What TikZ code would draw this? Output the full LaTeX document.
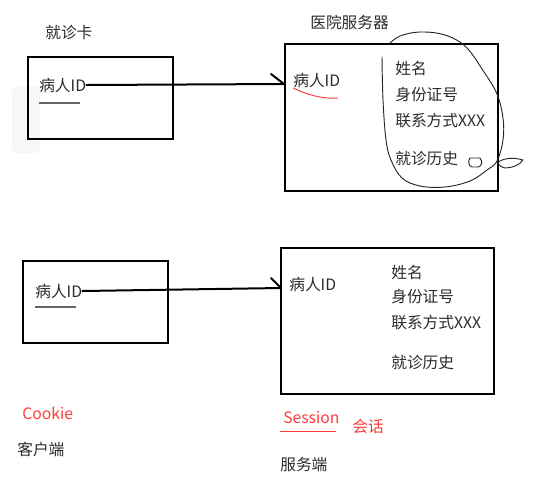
\documentclass[tikz,border=0pt]{standalone}
\usepackage{fontspec}
\setmainfont{Noto Sans CJK SC}
\usetikzlibrary{calc}
\definecolor{txt}{HTML}{2B2B2B}
\definecolor{redink}{HTML}{FF3B3B}
\begin{document}
\begin{tikzpicture}[x=0.75pt,y=-0.75pt,
  box/.style={draw=black,line width=1.6pt},
  lbl/.style={anchor=west,inner sep=0pt,text=txt,font=\fontsize{11.8}{14}\selectfont},
  rlbl/.style={lbl,text=redink},
  ink/.style={draw=black,line width=1.5pt,line cap=round,line join=round},
  pen/.style={draw=black!85,line width=0.7pt,line cap=round,line join=round},
  uline/.style={draw=black!60,line width=0.8pt}]
\useasboundingbox (0,0) rectangle (547,480);
% faint artifact
\fill[black!3,rounded corners=3pt] (12,86) rectangle (40,153);
% top row
\node[lbl] (card) at (45,33) {就诊卡};
\draw[box] (28,57) rectangle (173,139);
\node[lbl] (id1) at (39,85) {病人ID};
\draw[uline] (39,103) -- (80,103);
\node[lbl] (srvT) at (310,22) {医院服务器};
\draw[box] (285,44) rectangle (498,191);
\coordinate (a1) at (284,84);
\draw[ink] (id1.east) -- (a1) -- (271,74);
\node[lbl] (id2) at (293,80) {病人ID};
\draw[redink,line width=0.7pt] (293,88) .. controls (310,96) and (325,99) .. (338,98);
\node[lbl] (n1) at (395,68) {姓名};
\node[lbl] (n2) at (395,95) {身份证号};
\node[lbl] (n3) at (395,121) {联系方式XXX};
\node[lbl] (n4) at (395,159) {就诊历史};
\draw[pen] plot[smooth,tension=0.6] coordinates {(382,57) (383,100) (386,140) (391,160) (402,178) (420,186) (445,187) (470,181) (487,170) (497,161) (503,140) (503,118) (497,94) (484,72) (466,47) (445,35) (420,32) (400,36) (389,44)};
\draw[pen] (470,158) -- (480,158) .. controls (483,162) and (482,166) .. (478,167) -- (472,167) .. controls (468,166) and (468,160) .. (470,158);
\draw[pen] (497,163) .. controls (503,158) and (513,157) .. (523,160) .. controls (520,165) and (512,168) .. (505,168) .. controls (501,167) and (499,165) .. (497,163);
% bottom row
\draw[box] (23,261) rectangle (168,343);
\node[lbl] (id3) at (35,291) {病人ID};
\draw[uline] (35,307) -- (76,307);
\draw[box] (281,248) rectangle (494,394);
\coordinate (a2) at (281,288);
\draw[ink] (id3.east) -- (a2) -- (271,278);
\node[lbl] (id4) at (289,284) {病人ID};
\node[lbl] (m1) at (391,272) {姓名};
\node[lbl] (m2) at (391,297) {身份证号};
\node[lbl] (m3) at (391,323) {联系方式XXX};
\node[lbl] (m4) at (391,363) {就诊历史};
\node[rlbl] (cookie) at (22,413) {Cookie};
\node[lbl] (client) at (17,449) {客户端};
\node[rlbl] (session) at (283,417) {Session};
\draw[redink,line width=0.7pt] (280,431) -- (336,431);
\node[rlbl] (hh) at (352,427) {会话};
\node[lbl] (server) at (280,465) {服务端};
\end{tikzpicture}
\end{document}
